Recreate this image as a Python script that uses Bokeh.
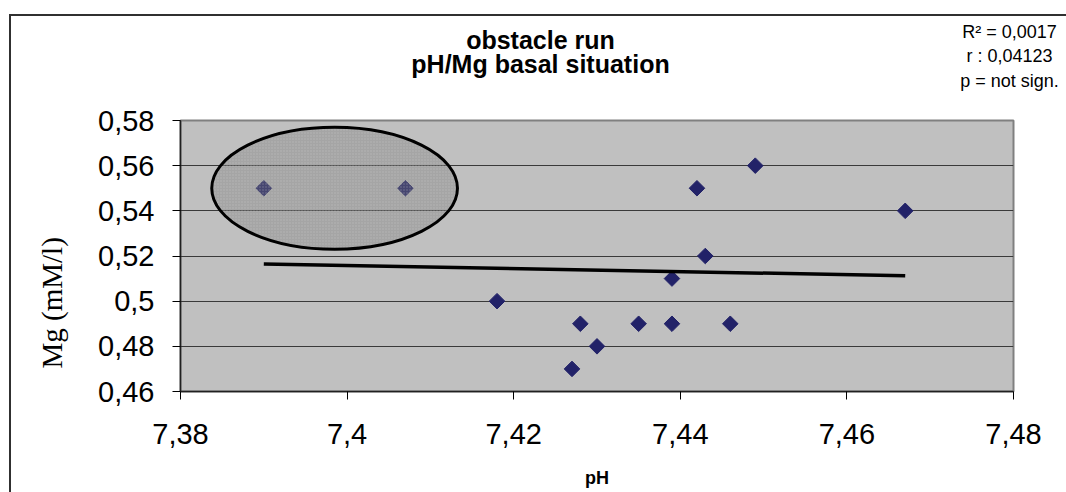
import numpy as np
from bokeh.plotting import figure
from bokeh.layouts import column
from bokeh.models import (Range1d, FixedTicker, CustomJSTickFormatter, Label,
                          Title)
from bokeh.embed import file_html
from bokeh.resources import INLINE

# ---- data ----
ph = [7.390, 7.407, 7.418, 7.427, 7.428, 7.430, 7.435, 7.439, 7.439,
      7.442, 7.443, 7.446, 7.449, 7.467]
mg = [0.55, 0.55, 0.50, 0.47, 0.49, 0.48, 0.49, 0.49, 0.51,
      0.55, 0.52, 0.49, 0.56, 0.54]
highlighted = [0, 1]          # points circled in the chart
x_ticks = [7.38, 7.40, 7.42, 7.44, 7.46, 7.48]
y_ticks = [0.46, 0.48, 0.50, 0.52, 0.54, 0.56, 0.58]
title_lines = ["obstacle run", "pH/Mg basal situation"]
stats_lines = ["R\u00b2 = 0,0017", "r : 0,04123", "p = not sign."]
x_label = "pH"
y_label = "Mg (mM/l)"

# ---- layout (page pixels) ----
OY = 14                         # top of the content (outer border line)
PW, PH = 1066, 492
FL, FR, FT, FB = 180, 1013, 120, 391   # plot frame edges in page pixels
SPLIT = 98                      # page y where header ends / plot figure starts

# header figure: its data coordinates are page pixels
head = figure(width=PW, height=SPLIT - OY, output_backend="svg",
              toolbar_location=None, x_axis_location=None,
              y_axis_location=None, x_range=Range1d(0, PW),
              y_range=Range1d(SPLIT, OY), min_border=0, frame_align=False)
head.outline_line_color = None
head.background_fill_alpha = 0
head.border_fill_alpha = 0
head.xgrid.visible = False
head.ygrid.visible = False

for txt, py in zip(title_lines, [39, 63.5]):
    head.add_layout(Label(x=540, y=py, text=txt, text_align="center",
                          text_baseline="middle", text_font="Liberation Sans",
                          text_font_style="bold", text_font_size="25px",
                          text_color="black"))
for txt, py in zip(stats_lines, [31, 55, 80]):
    head.add_layout(Label(x=1009, y=py, text=txt, text_align="center",
                          text_baseline="middle", text_font="Liberation Sans",
                          text_font_size="18px", text_color="black"))

# main plot
X0, X1 = x_ticks[0], x_ticks[-1]
Y0, Y1 = y_ticks[0], y_ticks[-1]
p = figure(output_backend="svg", toolbar_location=None,
           x_range=Range1d(X0, X1), y_range=Range1d(Y0, Y1),
           frame_width=FR - FL, frame_height=FB - FT, frame_align=False,
           min_border_left=FL, min_border_right=PW - FR,
           min_border_top=FT - SPLIT, min_border_bottom=PH - FB)
p.background_fill_color = "#C0C0C0"
p.border_fill_alpha = 0
p.outline_line_color = "#808080"
p.outline_line_width = 2

fmt = CustomJSTickFormatter(code="""
let s = tick.toFixed(2).replace(/0+$/, '').replace(/\\.$/, '');
return s.replace('.', ',');
""")
for ax in (p.xaxis[0], p.yaxis[0]):
    ax.formatter = fmt
    ax.major_label_text_font = "Liberation Sans"
    ax.major_label_text_font_size = "29px"
    ax.major_label_text_color = "black"
    ax.axis_line_color = "#202020"
    ax.axis_line_width = 1.5
    ax.major_tick_line_color = "black"
    ax.major_tick_in = 0
    ax.major_tick_out = 8
    ax.minor_tick_line_color = None

p.xaxis.ticker = FixedTicker(ticks=x_ticks)
p.yaxis.ticker = FixedTicker(ticks=y_ticks)
p.xaxis.major_label_standoff = 24
p.yaxis.major_label_standoff = 18

p.xaxis.axis_label = x_label
p.xaxis.axis_label_text_font = "Liberation Sans"
p.xaxis.axis_label_text_font_style = "bold"
p.xaxis.axis_label_text_font_size = "18px"
p.xaxis.axis_label_text_color = "black"
p.xaxis.axis_label_standoff = 21

# y label sits below the frame centre in the original -> left-side title
p.add_layout(Title(text=y_label, align="left", offset=23,
                   text_font="Liberation Serif", text_font_style="normal",
                   text_font_size="29px", text_color="black",
                   standoff=56), "left")

p.xgrid.grid_line_color = None
p.ygrid.grid_line_color = "#3a3a3a"
p.ygrid.grid_line_width = 1

# points
p.scatter(ph, mg, marker="square", size=11, angle=np.pi / 4,
          fill_color="#222268", line_color="#222268")

# linear trend line
coef = np.polyfit(ph, mg, 1)
tx = np.array([min(ph), max(ph)])
p.line(tx, np.polyval(coef, tx), line_color="black", line_width=3.5)

# highlight ellipse round the circled points
hx = [ph[i] for i in highlighted]
hy = [mg[i] for i in highlighted]
p.ellipse(x=[float(np.mean(hx))], y=[float(np.mean(hy))],
          width=[(max(hx) - min(hx)) + 0.0125], height=[0.054],
          fill_color="#7c7c7c", fill_alpha=0.4,
          hatch_pattern="dot", hatch_color="#d8d8d8", hatch_alpha=0.35,
          hatch_scale=3, hatch_weight=1,
          line_color="black", line_width=3)

# outer chart border (left and top lines) drawn as the layout's background
page = column(head, p, spacing=0,
              styles={"margin-top": f"{OY}px",
                      "background-color": "white",
                      "background-image": "linear-gradient(#303030, #303030), "
                                          "linear-gradient(#303030, #303030)",
                      "background-size": "2px 100%, 100% 2px",
                      "background-position": "9px 0px, 9px 0px",
                      "background-repeat": "no-repeat"})

open("out.html", "w").write(file_html(page, INLINE))
